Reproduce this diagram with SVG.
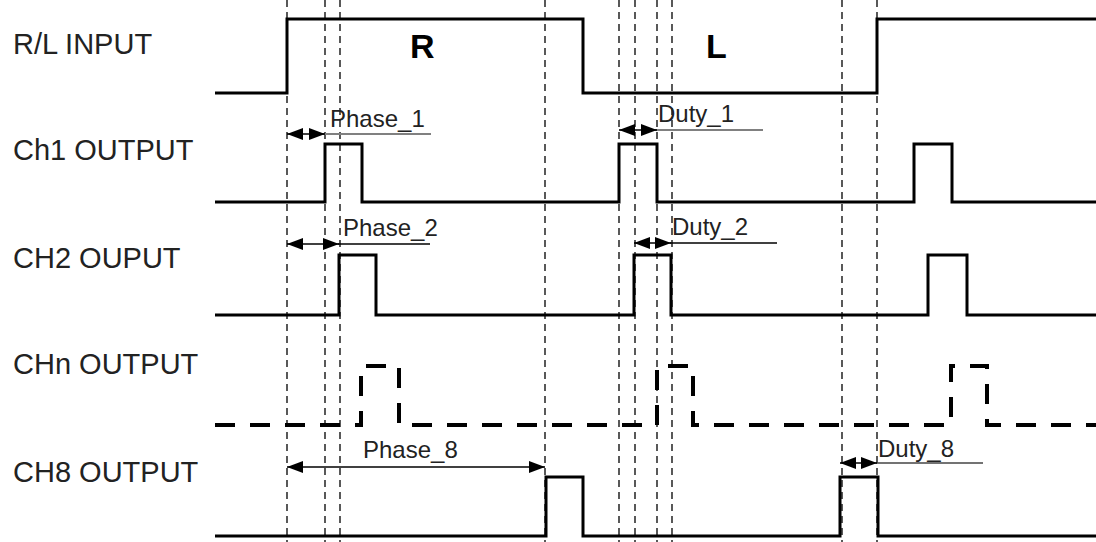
<svg xmlns="http://www.w3.org/2000/svg" width="1096" height="542" viewBox="0 0 1096 542">
<style>
.lbl{font-family:"Liberation Sans",Arial,sans-serif;font-size:29px;fill:#222}
.ann{font-family:"Liberation Sans",Arial,sans-serif;font-size:24px;fill:#222}
.big{font-family:"Liberation Sans",Arial,sans-serif;font-size:34px;font-weight:bold;fill:#000}
.wave{fill:none;stroke:#000;stroke-width:3;stroke-linejoin:miter}
.dwave{fill:none;stroke:#000;stroke-width:4;stroke-dasharray:20 15}
.grid{stroke:#000;stroke-width:1.3;stroke-dasharray:7 5}
.arr{stroke:#000;stroke-width:1.5;marker-start:url(#ah);marker-end:url(#ah)}
.ext{stroke:#000;stroke-width:1.3}
.extg{stroke:#808080;stroke-width:2.2}
</style>
<defs>
<marker id="ah" markerUnits="userSpaceOnUse" markerWidth="16" markerHeight="12" refX="16" refY="6" orient="auto-start-reverse" viewBox="0 0 16 12">
<path d="M0,0 L16,6 L0,12 z" fill="#000"/>
</marker>
</defs>
<rect width="1096" height="542" fill="#fff"/>
<g id="gridlines">
<line class="grid" x1="287" y1="0" x2="287" y2="542"/>
<line class="grid" x1="325" y1="0" x2="325" y2="542"/>
<line class="grid" x1="340" y1="0" x2="340" y2="542"/>
<line class="grid" x1="545" y1="0" x2="545" y2="542"/>
<line class="grid" x1="619" y1="0" x2="619" y2="542"/>
<line class="grid" x1="635" y1="0" x2="635" y2="542"/>
<line class="grid" x1="657" y1="0" x2="657" y2="542"/>
<line class="grid" x1="672" y1="0" x2="672" y2="542"/>
<line class="grid" x1="842" y1="0" x2="842" y2="542"/>
<line class="grid" x1="877" y1="0" x2="877" y2="542"/>
</g>
<g id="rl-input">
<text class="lbl" x="13" y="54">R/L INPUT</text>
<path class="wave" d="M215,93 H287 V19 H583 V93 H877 V19 H1096"/>
<text class="big" x="410" y="58">R</text>
<text class="big" x="706" y="58">L</text>
</g>
<g id="ch1-output">
<text class="lbl" x="13" y="160">Ch1 OUTPUT</text>
<path class="wave" d="M215,202 H325 V144 H362 V202 H619 V144 H657 V202 H914 V144 H952 V202 H1096"/>
</g>
<g id="ch2-output">
<text class="lbl" x="13" y="268">CH2 OUPUT</text>
<path class="wave" d="M215,315 H339 V255 H376 V315 H634 V255 H671 V315 H928 V255 H967 V315 H1096"/>
</g>
<g id="chn-output">
<text class="lbl" x="13" y="374">CHn OUTPUT</text>
<path class="dwave" d="M215,425 H361 V366 H399 V425 H657 V366 H693 V425 H951 V366 H987 V425 H1096"/>
</g>
<g id="ch8-output">
<text class="lbl" x="13" y="482">CH8 OUTPUT</text>
<path class="wave" d="M215,536 H546 V477 H583 V536 H840 V477 H878 V536 H1096"/>
</g>
<g id="connectors">
<line class="extg" x1="323" y1="134" x2="431" y2="134"/>
<line class="arr" x1="287" y1="134" x2="325" y2="134"/>
<text class="ann" x="330" y="127">Phase_1</text>
<line class="ext" x1="338" y1="244" x2="430" y2="244"/>
<line class="arr" x1="287" y1="244" x2="339" y2="244"/>
<text class="ann" x="343" y="236">Phase_2</text>
<line class="extg" x1="655" y1="130" x2="763" y2="130"/>
<line class="arr" x1="619" y1="130" x2="657" y2="130"/>
<text class="ann" x="658" y="122">Duty_1</text>
<line class="ext" x1="670" y1="243" x2="777" y2="243"/>
<line class="arr" x1="634" y1="243" x2="671" y2="243"/>
<text class="ann" x="672" y="235">Duty_2</text>
<line class="arr" x1="287" y1="467" x2="545" y2="467"/>
<text class="ann" x="363" y="458">Phase_8</text>
<line class="ext" x1="876" y1="463" x2="983" y2="463" style="stroke:#444;stroke-width:1.6"/>
<line class="arr" x1="840" y1="463" x2="877" y2="463"/>
<text class="ann" x="878" y="457">Duty_8</text>
</g>
</svg>
